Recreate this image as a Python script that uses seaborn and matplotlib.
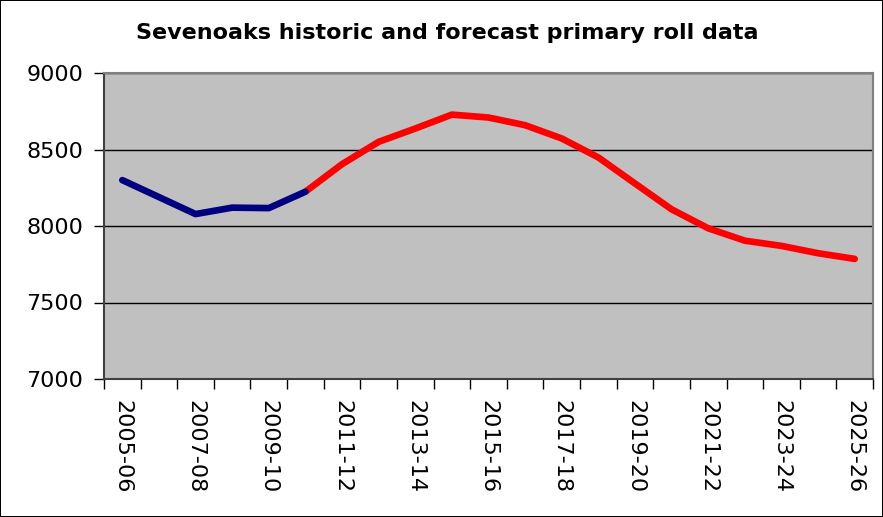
import pandas as pd
import seaborn as sns
import matplotlib.pyplot as plt

# data
years = ['2005-06', '2006-07', '2007-08', '2008-09', '2009-10', '2010-11',
         '2011-12', '2012-13', '2013-14', '2014-15', '2015-16', '2016-17',
         '2017-18', '2018-19', '2019-20', '2020-21', '2021-22', '2022-23',
         '2023-24', '2024-25', '2025-26']
historic = [8300, 8189, 8078, 8120, 8117, 8224]
forecast = [8224, 8404, 8550, 8637, 8728, 8709, 8659, 8572, 8448, 8278,
            8109, 7985, 7904, 7870, 7822, 7785]

rows = []
for i, v in enumerate(historic):
    rows.append({'pos': i, 'year': years[i], 'roll': v, 'kind': 'historic'})
start = len(historic) - 1
for i, v in enumerate(forecast):
    rows.append({'pos': start + i, 'year': years[start + i], 'roll': v, 'kind': 'forecast'})
df = pd.DataFrame(rows)

sns.set_style('white')
plt.rcParams['font.family'] = ['DejaVu Sans']
plt.rcParams['text.color'] = 'black'
plt.rcParams['xtick.color'] = 'black'
plt.rcParams['ytick.color'] = 'black'

fig = plt.figure(figsize=(8.83, 5.17), dpi=100)
fig.patch.set_edgecolor('black')
fig.patch.set_linewidth(1.2)
ax = fig.add_axes([104 / 883, 138 / 517, 769 / 883, 306 / 517])
ax.set_facecolor('#C0C0C0')

sns.lineplot(data=df, x='pos', y='roll', hue='kind',
             palette={'historic': '#000080', 'forecast': '#FF0000'},
             hue_order=['forecast', 'historic'],
             linewidth=4.8, ax=ax, legend=False, sort=False)
for line in ax.lines:
    line.set_solid_capstyle('round')

ax.set_xlim(-0.5, len(years) - 0.5)
ax.set_ylim(7000, 9000)
ax.set_yticks([7000, 7500, 8000, 8500, 9000])
ax.yaxis.grid(True, color='black', linewidth=1)
ax.set_axisbelow(True)

# ticks on the category boundaries, labels on every second category
ax.set_xticks([i - 0.5 for i in range(len(years) + 1)])
ax.set_xticklabels([])
ax.set_xticks(list(range(0, len(years), 2)), minor=True)
ax.set_xticklabels(years[::2], minor=True, rotation=-90, fontsize=16)
ax.tick_params(axis='x', which='major', length=7, width=1, color='black', direction='out', bottom=True)
ax.tick_params(axis='x', which='minor', length=0, pad=15, bottom=True)
ax.tick_params(axis='y', length=7, width=1, color='black', direction='out', left=True,
               labelsize=16, pad=8)
ax.set_xlabel('')
ax.set_ylabel('')

for side in ['top', 'right']:
    ax.spines[side].set_color('#808080')
    ax.spines[side].set_linewidth(1.5)
for side in ['left', 'bottom']:
    ax.spines[side].set_color('#404040')
    ax.spines[side].set_linewidth(1.5)

fig.text(447 / 883, 1 - 33 / 517, 'Sevenoaks historic and forecast primary roll data',
         ha='center', va='center', fontsize=16, fontweight='bold')

plt.savefig('out.png', dpi=100, edgecolor=fig.get_edgecolor())
plt.close()
